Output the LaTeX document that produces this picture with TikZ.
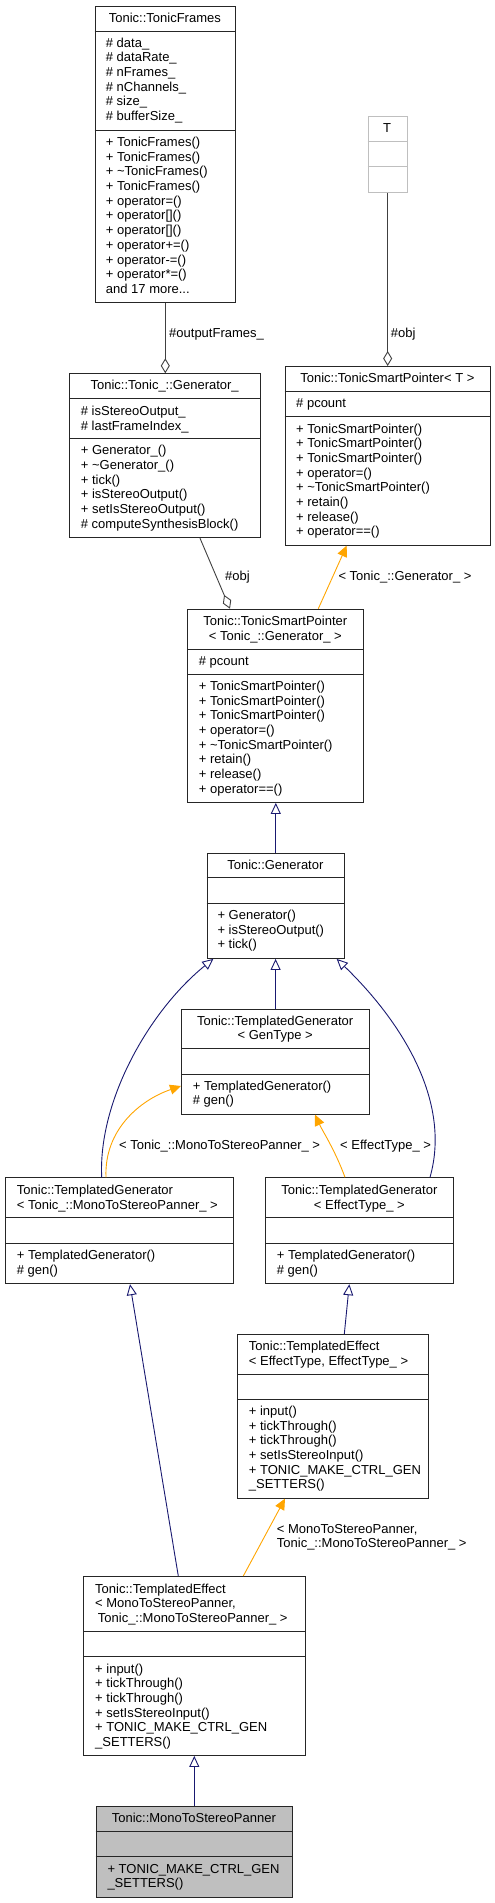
\documentclass[tikz,border=0pt]{standalone}
\usepackage{fontspec}
\setmainfont{Liberation Sans}
\usetikzlibrary{arrows.meta,calc}
\definecolor{mblue}{HTML}{191970}
\definecolor{orng}{HTML}{FFA500}
\definecolor{aggc}{HTML}{404040}
\definecolor{greyfill}{HTML}{BFBFBF}
\definecolor{tgrey}{HTML}{BFBFBF}
\definecolor{bordc}{HTML}{262626}
\tikzset{
 box/.style={draw=bordc, line width=0.9pt, inner sep=0pt, anchor=north west, rectangle},
 sepl/.style={draw=bordc, line width=0.9pt},
 txt/.style={inner sep=0pt, font=\fontsize{13}{14.7}\selectfont, anchor=base west},
 ttl/.style={txt, anchor=base},
 inh/.style={draw=mblue, line width=0.9pt, -{Triangle[open, length=11pt, width=10pt, fill=white]}},
 tpl/.style={draw=orng, line width=0.9pt, -{Triangle[length=11pt, width=10pt]}},
 agg/.style={draw=aggc, line width=0.9pt, -{Diamond[open, length=15pt, width=9pt, fill=white]}},
}
% #1 opts, #2 name, #3 x1, #4 y1, #5 x2, #6 y2, #7 s1, #8 s2
\newcommand\cbox[8][]{%
  \node[box, minimum width={(#5-#3)*1pt}, minimum height={(#6-#4)*1pt}, #1] (#2) at (#3,#4) {};
  \draw[sepl, #1] (#3,#7) -- (#5,#7) (#3,#8) -- (#5,#8);
}
% #1 style, #2 name prefix, #3 x, #4 first baseline, #5 list
\newcommand\lns[5][txt]{%
  \foreach \t [count=\i from 0] in {#5} {\node[#1] (#2\i) at (#3, #4+\i*14.7) {\t};}
}
\begin{document}
\begin{tikzpicture}[x=1pt,y=-1pt]
\useasboundingbox (0,0) rectangle (495,1903);

% Tonic::TonicFrames
\cbox{tf}{94.7}{5.7}{235}{302.3}{31.3}{130}
\node[ttl] (tf-t) at (164.85,22) {Tonic::TonicFrames};
\lns{tf-a}{105.7}{47}{\# data\_, \# dataRate\_, \# nFrames\_, \# nChannels\_, \# size\_, \# bufferSize\_}
\lns{tf-m}{105.7}{146.4}{+ TonicFrames(), + TonicFrames(), + \textasciitilde TonicFrames(), + TonicFrames(), + operator=(), + operator[](), + operator[](), + operator+=(), + operator-=(), + operator*=(), and 17 more{.}{.}{.}}

% T
\cbox[draw=tgrey]{T}{367.7}{116}{406.7}{192.3}{141.3}{166.7}
\node[ttl] (T-t) at (387.2,132.4) {T};

% Tonic::Tonic_::Generator_
\cbox{g_}{69.3}{373.3}{260}{537.3}{398.7}{438.3}
\node[ttl] (g_-t) at (164.65,389.4) {Tonic::Tonic\_::Generator\_};
\lns{g_-a}{80.7}{415.4}{\# isStereoOutput\_, \# lastFrameIndex\_}
\lns{g_-m}{80.7}{454.7}{+ Generator\_(), + \textasciitilde Generator\_(), + tick(), + isStereoOutput(), + setIsStereoOutput(), \# computeSynthesisBlock()}

% Tonic::TonicSmartPointer< T >
\cbox{tspT}{284.7}{366}{490}{544.7}{391}{416.7}
\node[ttl] (tspT-t) at (387.35,382.4) {Tonic::TonicSmartPointer< T >};
\node[txt] (tspT-a) at (296,407.4) {\# pcount};
\lns{tspT-m}{296}{433}{+ TonicSmartPointer(), + TonicSmartPointer(), + TonicSmartPointer(), + operator=(), + \textasciitilde TonicSmartPointer(), + retain(), + release(), + operator==()}

% Tonic::TonicSmartPointer< Tonic_::Generator_ >
\cbox{tspG}{187.3}{608.7}{363.3}{802}{649}{674}
\lns[ttl]{tspG-t}{275.3}{625.4}{Tonic::TonicSmartPointer, < Tonic\_::Generator\_ >}
\node[txt] (tspG-a) at (198.7,665.4) {\# pcount};
\lns{tspG-m}{198.7}{690.4}{+ TonicSmartPointer(), + TonicSmartPointer(), + TonicSmartPointer(), + operator=(), + \textasciitilde TonicSmartPointer(), + retain(), + release(), + operator==()}

% Tonic::Generator
\cbox{gen}{206.7}{852.7}{344}{958}{877.7}{903.3}
\node[ttl] (gen-t) at (275.35,869.4) {Tonic::Generator};
\lns{gen-m}{217.3}{919.4}{+ Generator(), + isStereoOutput(), + tick()}

% Tonic::TemplatedGenerator< GenType >
\cbox{tgg}{181}{1008.7}{369.3}{1113.7}{1048.7}{1074}
\lns[ttl]{tgg-t}{275.15}{1025}{Tonic::TemplatedGenerator, < GenType >}
\lns{tgg-m}{192.7}{1090}{+ TemplatedGenerator(), \# gen()}

% Tonic::TemplatedGenerator< Tonic_::MonoToStereoPanner_ >
\cbox{tgm}{5}{1177.3}{232.7}{1283.3}{1217.7}{1243.3}
\lns{tgm-t}{16.7}{1194.4}{Tonic::TemplatedGenerator, < Tonic\_::MonoToStereoPanner\_ >}
\lns{tgm-m}{16.7}{1259.4}{+ TemplatedGenerator(), \# gen()}

% Tonic::TemplatedGenerator< EffectType_ >
\cbox{tge}{265.3}{1177.3}{453.3}{1283.3}{1217.7}{1243.3}
\lns[ttl]{tge-t}{359.3}{1194.4}{Tonic::TemplatedGenerator, < EffectType\_ >}
\lns{tge-m}{276.7}{1259.4}{+ TemplatedGenerator(), \# gen()}

% Tonic::TemplatedEffect< EffectType, EffectType_ >
\cbox{tee}{237}{1334}{428}{1497.7}{1374.3}{1399.3}
\lns{tee-t}{248.7}{1350.4}{Tonic::TemplatedEffect, {< EffectType, EffectType\_ >}}
\lns{tee-m}{248.7}{1415.4}{+ input(), + tickThrough(), + tickThrough(), + setIsStereoInput(), + TONIC\_MAKE\_CTRL\_GEN, \_SETTERS()}

% Tonic::TemplatedEffect< MonoToStereoPanner, Tonic_::MonoToStereoPanner_ >
\cbox{tem}{83}{1576}{304.7}{1755}{1631.3}{1656.7}
\lns{tem-t}{95}{1593}{Tonic::TemplatedEffect, {< MonoToStereoPanner,}, {\hspace{2.7pt}Tonic\_::MonoToStereoPanner\_ >}}
\lns{tem-m}{95}{1673}{+ input(), + tickThrough(), + tickThrough(), + setIsStereoInput(), + TONIC\_MAKE\_CTRL\_GEN, \_SETTERS()}

% Tonic::MonoToStereoPanner
\cbox[fill=greyfill]{mtsp}{95.7}{1805.7}{292}{1896.7}{1831}{1856.3}
\node[ttl] (mtsp-t) at (193.85,1822) {Tonic::MonoToStereoPanner};
\lns{mtsp-m}{107.3}{1873}{+ TONIC\_MAKE\_CTRL\_GEN, \_SETTERS()}

% connectors
\draw[agg] (tf.south) -- (tf.south |- g_.north);
\node[txt] (l-of) at (169,337.4) {\#outputFrames\_};
\draw[agg] (T.south) -- (T.south |- tspT.north);
\node[txt] (l-obj1) at (390.7,337.4) {\#obj};
\draw[agg] (200,0 |- g_.south) -- (230,0 |- tspG.north);
\node[txt] (l-obj2) at (225,580.4) {\#obj};
\draw[tpl] (318.3,0 |- tspG.north) -- (346.7,0 |- tspT.south);
\node[txt] (l-gen) at (338.3,580.4) {< Tonic\_::Generator\_ >};
\draw[inh] (gen.north) -- (gen.north |- tspG.south);
\draw[inh] (tgg.north) -- (tgg.north |- gen.south);
\draw[inh] (101.7,0 |- tgm.north) .. controls (98,1100) and (150,1010) .. (213.3,0 |- gen.south);
\draw[inh] (430,0 |- tge.north) .. controls (452,1100) and (400,1020) .. (336.7,0 |- gen.south);
\draw[tpl] (106,0 |- tgm.north) .. controls (104,1130) and (140,1100) .. (tgg.west |- 0,1086);
\node[txt] (l-mono) at (119,1149.7) {< Tonic\_::MonoToStereoPanner\_ >};
\draw[tpl] (345,0 |- tge.north) .. controls (335,1150) and (322,1130) .. (315,0 |- tgg.south);
\node[txt] (l-eff) at (340,1149.7) {< EffectType\_ >};
\draw[inh] (344.3,0 |- tee.north) -- (349.3,0 |- tge.south);
\draw[inh] (178.3,0 |- tem.north) -- (130,0 |- tgm.south);
\draw[tpl] (243.3,0 |- tem.north) -- (285,0 |- tee.south);
\lns{l-te}{276.7}{1533}{{< MonoToStereoPanner,}, Tonic\_::MonoToStereoPanner\_ >}
\draw[inh] (mtsp.north) -- (mtsp.north |- tem.south);
\end{tikzpicture}
\end{document}
